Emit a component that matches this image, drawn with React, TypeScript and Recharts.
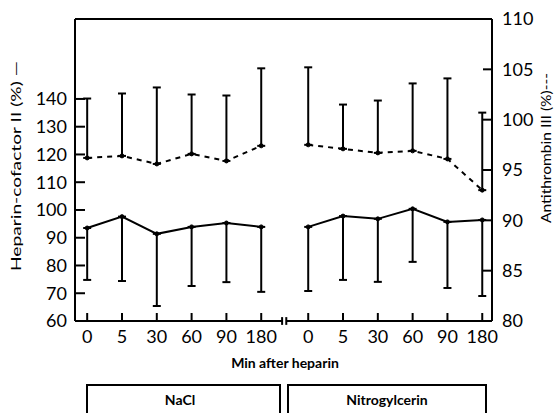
import { ComposedChart, Line, XAxis, YAxis, ErrorBar, ReferenceLine, Label } from 'recharts'

// sampling times (min after heparin), same for both groups
const minutes = ['0', '5', '30', '60', '90', '180']

// heparin cofactor II (%), mean and lower SD end — left axis, solid
const hc2Nacl = [93.5, 97.6, 91.4, 93.9, 95.3, 93.9]
const hc2NaclLow = [74.8, 74.4, 65.4, 72.6, 74.0, 70.5]
const hc2Nitro = [93.9, 97.8, 96.8, 100.4, 95.7, 96.4]
const hc2NitroLow = [70.8, 74.8, 74.1, 81.3, 71.9, 69.0]

// antithrombin III (%), mean and upper SD end — right axis, dashed
const at3Nacl = [96.2, 96.4, 95.6, 96.6, 95.9, 97.4]
const at3NaclHigh = [102.1, 102.6, 103.2, 102.5, 102.4, 105.1]
const at3Nitro = [97.5, 97.1, 96.7, 96.9, 96.1, 93.0]
const at3NitroHigh = [105.2, 101.5, 101.9, 103.6, 104.1, 100.7]

const leftTicks = [60, 70, 80, 90, 100, 110, 120, 130, 140]
const rightTicks = [80, 85, 90, 95, 100, 105, 110]

const FONT = 'Lato, "DejaVu Sans", sans-serif'
const GAP = 1.35
const naclX = minutes.map((_, i) => i)
const nitroX = minutes.map((_, i) => i + minutes.length - 1 + GAP)
const xTicks = [...naclX, ...nitroX]
const BREAK = [5.6, 5.72]

const build = (xs: number[], vals: number[], ends: number[], up: boolean) =>
  xs.map((x, i) => ({
    x,
    v: vals[i],
    err: up ? [0, ends[i] - vals[i]] : [vals[i] - ends[i], 0],
  }))

const hc2NaclData = build(naclX, hc2Nacl, hc2NaclLow, false)
const hc2NitroData = build(nitroX, hc2Nitro, hc2NitroLow, false)
const at3NaclData = build(naclX, at3Nacl, at3NaclHigh, true)
const at3NitroData = build(nitroX, at3Nitro, at3NitroHigh, true)

const tickStyle = { fill: '#000', fontSize: 18, fontFamily: FONT }
const black = { stroke: '#000', strokeWidth: 2 }

function BottomLabels({ viewBox }: any) {
  const { x, y } = viewBox
  return (
    <g fontFamily={FONT} fill="#000">
      <text x={x + 210} y={y + 47} textAnchor="middle" fontSize={14} fontWeight="bold">
        Min after heparin
      </text>
      <rect x={x + 12} y={y + 64} width={193} height={40} fill="none" stroke="#000" strokeWidth={2} />
      <rect x={x + 213} y={y + 64} width={198} height={40} fill="none" stroke="#000" strokeWidth={2} />
      <text x={x + 105} y={y + 84} textAnchor="middle" fontSize={14} fontWeight="bold">NaCl</text>
      <text x={x + 312} y={y + 84} textAnchor="middle" fontSize={14} fontWeight="bold">Nitrogylcerin</text>
    </g>
  )
}

function SideLabel({ viewBox, text, dx, dy, len }: any) {
  const cx = viewBox.x + dx
  const cy = viewBox.y + viewBox.height / 2 + dy
  return (
    <text
      x={cx}
      y={cy}
      transform={`rotate(-90 ${cx} ${cy})`}
      textAnchor="middle"
      dominantBaseline="central"
      fontFamily={FONT}
      fontSize={14}
      fill="#000"
      textLength={len}
      lengthAdjust="spacingAndGlyphs"
    >
      {text}
    </text>
  )
}

export default function App() {
  return (
    <div style={{ position: 'absolute', left: 0, top: 0, background: '#fff' }}>
      <ComposedChart width={555} height={413} margin={{ top: 19, right: 0, bottom: 0, left: 0 }}>
        <XAxis
          type="number"
          dataKey="x"
          domain={[-0.35, 11.63]}
          allowDataOverflow
          ticks={xTicks}
          interval={0}
          tickFormatter={(t: number) => minutes[xTicks.findIndex((p) => Math.abs(p - t) < 0.01) % minutes.length]}
          axisLine={false}
          tickLine={black}
          tickSize={-8}
          tickMargin={17}
          tick={tickStyle}
          height={92}
        >
          <Label content={<BottomLabels />} />
        </XAxis>
        <YAxis
          yAxisId="left"
          domain={[60, 168.8]}
          allowDataOverflow
          ticks={leftTicks}
          interval={0}
          width={75}
          axisLine={black}
          tickLine={black}
          tickSize={-10}
          tickMargin={18}
          tick={tickStyle}
        >
          <Label content={<SideLabel text="Heparin-cofactor II (%) —" dx={15} dy={-4} len={210} />} />
        </YAxis>
        <YAxis
          yAxisId="right"
          orientation="right"
          domain={[80, 110]}
          allowDataOverflow
          ticks={rightTicks}
          interval={0}
          width={63}
          axisLine={black}
          tickLine={black}
          tickSize={-9}
          tickMargin={19}
          tick={tickStyle}
        >
          <Label content={<SideLabel text="Antithrombin III (%)---" dx={53} dy={-22} len={150} />} />
        </YAxis>

        <ReferenceLine yAxisId="right" y={110} {...black} ifOverflow="visible" />
        <ReferenceLine
          yAxisId="left"
          segment={[{ x: -0.35, y: 60 }, { x: BREAK[0], y: 60 }]}
          {...black}
          ifOverflow="visible"
        />
        <ReferenceLine
          yAxisId="left"
          segment={[{ x: BREAK[1], y: 60 }, { x: 11.63, y: 60 }]}
          {...black}
          ifOverflow="visible"
        />
        {BREAK.map((b) => (
          <ReferenceLine
            key={b}
            yAxisId="left"
            segment={[{ x: b, y: 58.6 }, { x: b, y: 61.4 }]}
            {...black}
            ifOverflow="visible"
          />
        ))}

        {[hc2NaclData, hc2NitroData].map((d, k) => (
          <Line
            key={`hc2-${k}`}
            yAxisId="left"
            data={d}
            dataKey="v"
            stroke="#000"
            strokeWidth={2}
            dot={{ r: 2, fill: '#000', stroke: '#000', strokeWidth: 1 }}
            activeDot={false}
            isAnimationActive={false}
          >
            <ErrorBar dataKey="err" direction="y" width={4} stroke="#000" strokeWidth={2} isAnimationActive={false} />
          </Line>
        ))}
        {[at3NaclData, at3NitroData].map((d, k) => (
          <Line
            key={`at3-${k}`}
            yAxisId="right"
            data={d}
            dataKey="v"
            stroke="#000"
            strokeWidth={2}
            strokeDasharray="5 5"
            dot={{ r: 2, fill: '#000', stroke: '#000', strokeWidth: 1, strokeDasharray: '' }}
            activeDot={false}
            isAnimationActive={false}
          >
            <ErrorBar dataKey="err" direction="y" width={4} stroke="#000" strokeWidth={2} isAnimationActive={false} />
          </Line>
        ))}
      </ComposedChart>
    </div>
  )
}
